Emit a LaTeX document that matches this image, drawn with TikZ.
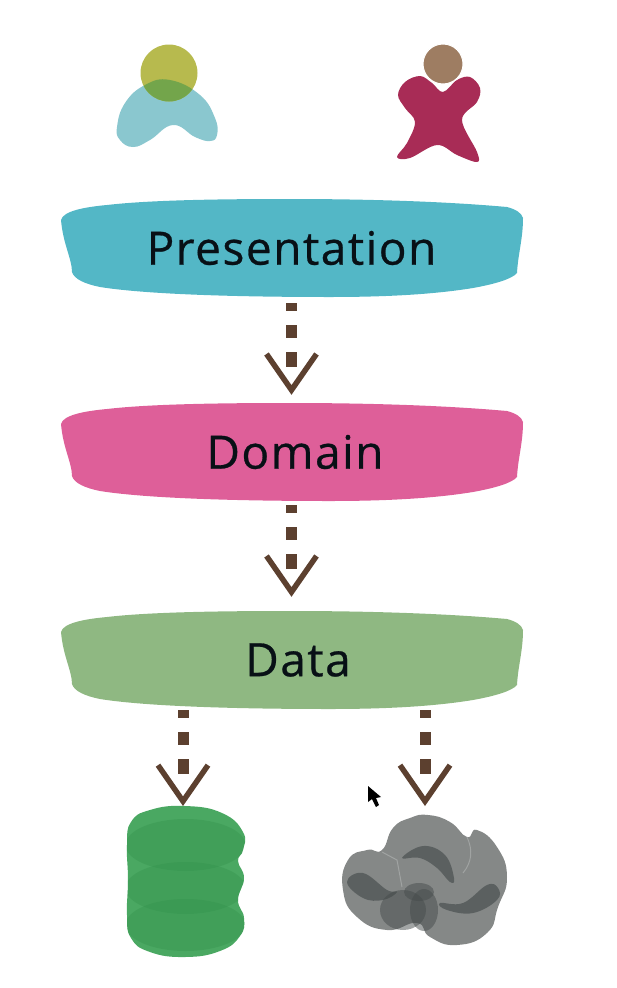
\documentclass[tikz,border=0pt]{standalone}
\usepackage{fontspec}
\setmainfont{Open Sans}[LetterSpace=3.3,FakeBold=0.6]
\usetikzlibrary{arrows.meta}
\definecolor{prescolor}{RGB}{83,183,198}
\definecolor{domcolor}{RGB}{222,95,153}
\definecolor{datacolor}{RGB}{143,184,130}
\definecolor{flowcolor}{RGB}{92,64,47}
\definecolor{labelcolor}{RGB}{8,16,22}
\definecolor{headone}{RGB}{183,186,78}
\definecolor{bodyone}{RGB}{138,199,207}
\definecolor{overlapone}{RGB}{115,165,75}
\definecolor{headtwo}{RGB}{158,125,98}
\definecolor{bodytwo}{RGB}{168,44,86}
\definecolor{storecolor}{RGB}{74,168,98}
\definecolor{storedark}{RGB}{50,145,75}
\definecolor{cloudcolor}{RGB}{133,136,135}
\definecolor{clouddark}{RGB}{70,76,76}
\definecolor{cloudseam}{RGB}{160,163,162}
\tikzset{
  band/.style={minimum width=463pt,minimum height=98pt,inner sep=0pt,text=labelcolor,
    font=\fontsize{46}{50}\selectfont},
  flow/.style={draw=flowcolor,line width=11pt,dash pattern=on 13pt off 14pt on 13pt off 14pt on 15pt off 60pt,dash phase=5pt,
    -{Straight Barb[length=36pt,width=50pt,line width=5.5pt,sep=0pt]}},
}
\newcommand{\bandshape}[2]{
\fill[#2,shift={(0,#1)}] (61,21) .. controls (63,12) and (85,8) .. (107,6)
  .. controls (150,1) and (220,0) .. (290,0)
  .. controls (360,0) and (440,2) .. (507,8)
  .. controls (515,10) and (522,14) .. (523,19)
  .. controls (523,40) and (518,55) .. (517,74)
  .. controls (512,80) and (495,85) .. (473,89)
  .. controls (430,96) and (380,98) .. (330,98)
  .. controls (250,98) and (150,96) .. (100,88)
  .. controls (85,85) and (74,80) .. (72,73)
  .. controls (72,60) and (63,45) .. (61,21) -- cycle;
}
\newcommand{\bodyoutline}{plot[smooth cycle,tension=.75] coordinates {(170,80) (200,95) (215,118) (217,135) (210,141) (195,137) (173,125) (150,140) (133,147) (120,140) (117,127) (125,103) (145,85)}}
\newcommand{\storeoutline}{plot[smooth cycle,tension=.8] coordinates {(185,806) (222,813) (243,832) (243,850) (238,861) (244,878) (238,900) (244,918) (240,936) (220,951) (185,957) (150,952) (131,938) (127,915) (128,880) (127,845) (131,822) (150,810)}}
\begin{document}
\begin{tikzpicture}[x=1pt,y=-1pt]
\useasboundingbox (0,0) rectangle (616,988);
% actors
\fill[bodyone] \bodyoutline;
\begin{scope}
\fill[headone] (169,73) circle (28.5pt);
\clip (169,73) circle (28.5pt);
\fill[overlapone] \bodyoutline;
\end{scope}
\fill[bodytwo] plot[smooth cycle,tension=.6] coordinates {(420,76) (405,82) (398,95) (405,108) (415,122) (407,143) (397,157) (410,158) (437,145) (457,155) (477,162) (477,152) (462,120) (477,102) (480,88) (470,77) (457,80) (443,92) (432,83)};
\fill[headtwo,draw=white,line width=1pt] (443,64) circle (20pt);
% layers
\bandshape{199}{prescolor}
\bandshape{403}{domcolor}
\bandshape{611}{datacolor}
\node[band] (pres) at (291.5,248) {Presentation};
\node[band] (dom) at (291.5,452) {\hspace*{7pt}Domain};
\node[band] (data) at (291.5,660) {\hspace*{13pt}Data};
% stores
\coordinate (store) at (183,806);
\coordinate (cloud) at (425,806);
\fill[storecolor] \storeoutline;
\begin{scope}
\clip \storeoutline;
\foreach \yc in {845,888,925}
  \fill[storedark,opacity=.35] (185.5,\yc) ellipse (60pt and 26pt);
\end{scope}
\fill[cloudcolor] plot[smooth cycle,tension=.85] coordinates {(428,815) (450,822) (467,837) (477,830) (497,847) (507,877) (498,907) (487,933) (457,945) (430,937) (417,923) (387,930) (357,917) (343,890) (348,860) (367,850) (382,850) (393,828) (410,818)};
\draw[cloudseam,line width=1pt] (467,837) .. controls (473,850) and (472,862) .. (463,873);
\draw[cloudseam,line width=1pt] (382,852) -- (397,860) -- (402,887);
\fill[clouddark,opacity=.65] plot[smooth cycle,tension=.7] coordinates {(347,882) (363,873) (387,890) (397,892) (383,900) (363,898)};
\fill[clouddark,opacity=.65] plot[smooth cycle,tension=.7] coordinates {(402,858) (423,846) (445,855) (454,878) (450,882) (437,868) (420,858)};
\fill[clouddark,opacity=.65] plot[smooth cycle,tension=.7] coordinates {(440,903) (463,903) (487,885) (498,888) (497,900) (473,913) (447,910)};
\fill[clouddark,opacity=.5] (403,910) ellipse (23pt and 20pt);
\fill[clouddark,opacity=.5] (424,910) ellipse (14pt and 21pt);
\fill[clouddark,opacity=.5] (419,892) ellipse (15pt and 9pt);
% connectors
\draw[flow,shorten <=6pt,shorten >=8pt] (pres.south) -- (dom.north);
\draw[flow,shorten <=4pt,shorten >=14pt] (dom.south) -- (data.north);
\draw[flow,shorten <=1pt] (data.south -| store) -- (store);
\draw[flow,shorten <=1pt] (data.south -| cloud) -- (cloud);
% pointer
\fill[black] (368,786) -- (368,802) -- (372,799) -- (376,807) -- (379,805) -- (376,798) -- (381,797) -- cycle;
\end{tikzpicture}
\end{document}
